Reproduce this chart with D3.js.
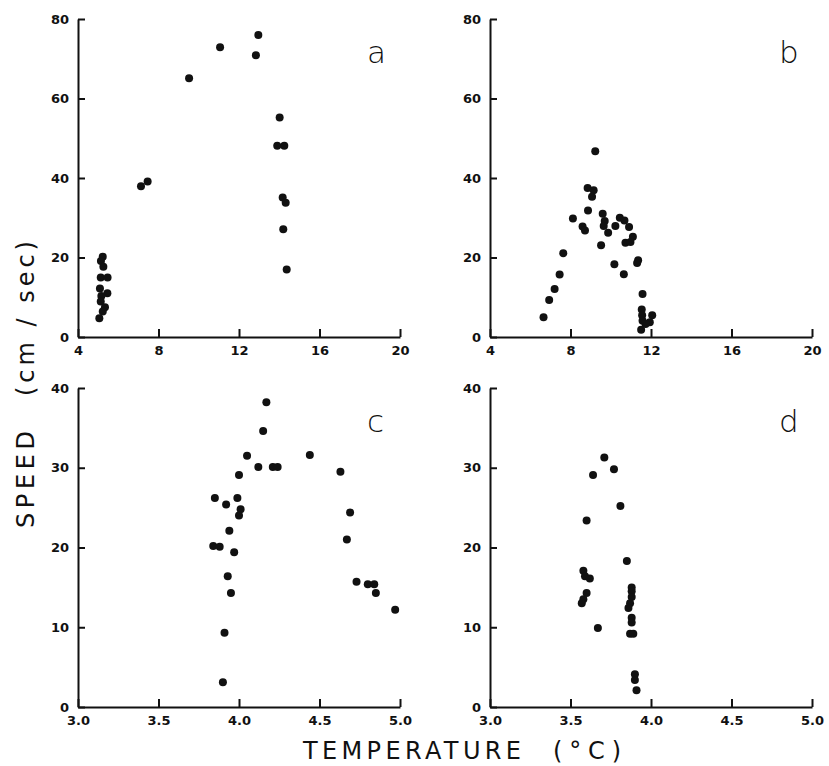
<!DOCTYPE html>
<html>
<head>
<meta charset="utf-8">
<script src="https://cdn.jsdelivr.net/npm/d3@7"></script>
<style>
  body { margin: 0; background: #fff; }
  svg { display: block; }
  .tick text { font-family: "DejaVu Sans", sans-serif; font-weight: bold; font-size: 13px; fill: #111; }
  .domain, .tick line { stroke: #111; stroke-width: 2; }
  .title { font-family: "DejaVu Sans", sans-serif; font-size: 24px; fill: #111; }
  .letter { font-family: "DejaVu Sans", sans-serif; font-weight: 200; font-size: 31px; fill: #111; }
</style>
</head>
<body>
<div id="chart"></div>
<script>
// panel a : temperature (C) vs speed (cm/sec)
const tempA = [12.96, 11.06, 12.84, 9.52, 14.02, 13.9, 14.25, 7.13, 7.46, 14.17, 14.32, 14.2, 14.37,
  5.23, 5.14, 5.26, 5.13, 5.47, 5.09, 5.46, 5.16, 5.13, 5.34, 5.23, 5.06];
const speedA = [76.0, 72.9, 70.9, 65.1, 55.2, 48.1, 48.1, 37.9, 39.1, 35.1, 33.8, 27.1, 17.0,
  20.2, 19.1, 17.7, 15.0, 15.0, 12.2, 11.0, 10.3, 8.9, 7.5, 6.4, 4.7];

// panel b
const tempB = [9.23, 8.85, 9.15, 9.07, 8.87, 8.12, 8.6, 8.72, 9.6, 9.7, 9.65, 9.87, 9.52, 10.45, 10.68,
  10.23, 10.91, 11.1, 10.73, 10.98, 10.18, 10.65, 11.36, 11.31, 7.64, 7.46, 7.21, 6.94, 6.66,
  11.58, 11.54, 11.56, 12.06, 11.58, 11.94, 11.73, 11.51];
const speedB = [46.7, 37.5, 36.9, 35.3, 31.8, 29.8, 27.8, 26.8, 31.0, 29.2, 27.9, 26.2, 23.1, 30.0, 29.3,
  27.9, 27.7, 25.2, 23.7, 23.9, 18.3, 15.8, 19.3, 18.6, 21.1, 15.7, 12.1, 9.3, 5.0,
  10.8, 6.9, 5.5, 5.5, 4.1, 3.7, 3.3, 1.8];

// panel c
const tempC = [4.17, 4.15, 4.05, 4.44, 4.12, 4.21, 4.24, 4.63, 4.0, 3.85, 3.99, 3.92, 4.01, 4.0, 4.69,
  3.94, 4.67, 3.84, 3.88, 3.97, 3.93, 3.95, 4.73, 4.80, 4.84, 4.85, 4.97, 3.91, 3.90];
const speedC = [38.2, 34.6, 31.5, 31.6, 30.1, 30.1, 30.1, 29.5, 29.1, 26.2, 26.2, 25.4, 24.8, 24.0, 24.4,
  22.1, 21.0, 20.2, 20.1, 19.4, 16.4, 14.3, 15.7, 15.4, 15.4, 14.3, 12.2, 9.3, 3.1];

// panel d
const tempD = [3.71, 3.77, 3.64, 3.81, 3.60, 3.85, 3.58, 3.59, 3.62, 3.60, 3.58, 3.57, 3.67,
  3.88, 3.88, 3.88, 3.87, 3.86, 3.88, 3.88, 3.87, 3.89, 3.90, 3.90, 3.91];
const speedD = [31.3, 29.8, 29.1, 25.2, 23.4, 18.3, 17.1, 16.4, 16.1, 14.3, 13.5, 13.0, 9.9,
  15.0, 14.5, 13.8, 13.0, 12.4, 11.2, 10.6, 9.2, 9.2, 4.1, 3.4, 2.1];

const ticksTop = [4, 8, 12, 16, 20];
const ticksBottom = [3.0, 3.5, 4.0, 4.5, 5.0];
const speedTicksTop = [0, 20, 40, 60, 80];
const speedTicksBottom = [0, 10, 20, 30, 40];

const W = 829, H = 766;
const svg = d3.select("#chart").append("svg")
    .attr("width", W)
    .attr("height", H);

const cols = [[78, 400], [490, 812]];
const rows = [[19, 337], [388, 707]];

const panels = [
  { name: "a", t: tempA, s: speedA, xd: [4, 20], yd: [0, 80], xt: ticksTop, yt: speedTicksTop, fmt: d3.format("d"), col: 0, row: 0 },
  { name: "b", t: tempB, s: speedB, xd: [4, 20], yd: [0, 80], xt: ticksTop, yt: speedTicksTop, fmt: d3.format("d"), col: 1, row: 0 },
  { name: "c", t: tempC, s: speedC, xd: [3, 5], yd: [0, 40], xt: ticksBottom, yt: speedTicksBottom, fmt: d3.format(".1f"), col: 0, row: 1 },
  { name: "d", t: tempD, s: speedD, xd: [3, 5], yd: [0, 40], xt: ticksBottom, yt: speedTicksBottom, fmt: d3.format(".1f"), col: 1, row: 1 }
];

panels.forEach(p => {
  let x = d3.scaleLinear().domain(p.xd).range(cols[p.col]);
  let y = d3.scaleLinear().domain(p.yd).range([rows[p.row][1], rows[p.row][0]]);
  let g = svg.append("g");

  g.append("g")
      .attr("transform", "translate(0," + rows[p.row][1] + ")")
      .call(d3.axisBottom(x).tickValues(p.xt).tickFormat(p.fmt).tickSizeInner(-8).tickSizeOuter(0).tickPadding(9));

  g.append("g")
      .attr("transform", "translate(" + cols[p.col][0] + ",0)")
      .call(d3.axisLeft(y).tickValues(p.yt).tickSizeInner(-7).tickSizeOuter(0).tickPadding(9));

  g.append("g").selectAll("circle")
      .data(p.t.map((t, i) => [t, p.s[i]]))
      .enter().append("circle")
      .attr("cx", d => x(d[0]))
      .attr("cy", d => y(d[1]))
      .attr("r", 4)
      .attr("fill", "#111");

  g.append("text")
      .attr("class", "letter")
      .attr("x", cols[p.col][1] - 33)
      .attr("y", rows[p.row][0] + 44)
      .text(p.name);
});

// axis titles, stretched to the widths seen in the figure
svg.append("text").attr("class", "title")
    .attr("x", 303).attr("y", 759)
    .attr("textLength", 218).attr("lengthAdjust", "spacing")
    .text("TEMPERATURE");
svg.append("text").attr("class", "title")
    .attr("x", 553).attr("y", 759)
    .attr("textLength", 68).attr("lengthAdjust", "spacing")
    .text("(°C)");

svg.append("text").attr("class", "title")
    .attr("transform", "translate(34,528) rotate(-90)")
    .attr("textLength", 97).attr("lengthAdjust", "spacing")
    .text("SPEED");
svg.append("text").attr("class", "title")
    .attr("transform", "translate(34,396) rotate(-90)")
    .attr("textLength", 155).attr("lengthAdjust", "spacing")
    .text("(cm / sec)");
</script>
</body>
</html>
